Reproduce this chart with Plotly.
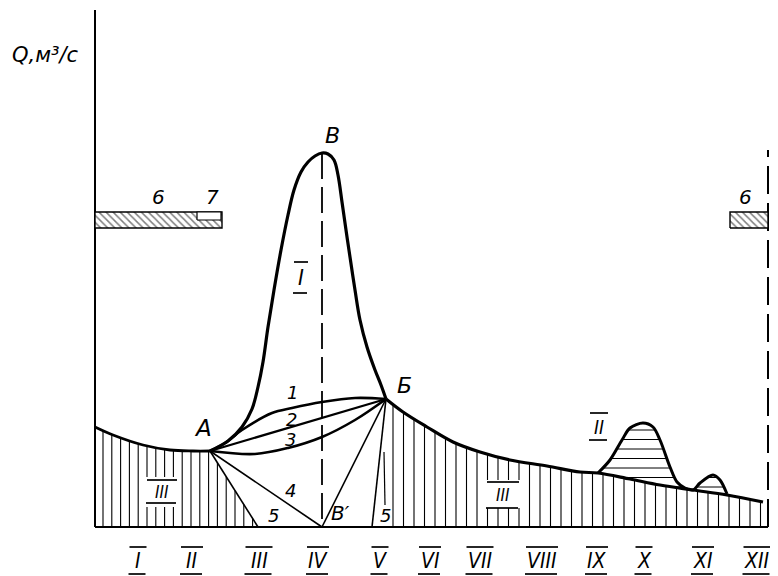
import numpy as np
import plotly.graph_objects as go

# ---------------- data (t: position along the year, q: discharge) ----------------
month_labels = ["I", "II", "III", "IV", "V", "VI", "VII", "VIII", "IX", "X", "XI", "XII"]
month_t = [138, 192, 259, 318, 380, 430, 480, 542, 597, 644, 703, 757]

# base flow before the flood (axis -> point А)
base_left_t = [95, 113, 143, 170, 193, 210]
base_left_q = [100, 92, 82, 77, 76, 76]

# main flood hydrograph А – В – Б
flood_t = [210, 228, 242, 252, 258, 263, 268, 274, 281, 288, 294, 301, 308, 315, 322,
           328, 334, 338, 342, 346, 350, 355, 360, 367, 375, 381, 386]
flood_q = [76, 86, 100, 118, 140, 165, 200, 237, 277, 312, 337, 355, 365, 371, 374,
           373, 367, 352, 325, 297, 270, 237, 207, 180, 157, 142, 128]

# recession (base flow) after Б
rec_t = [386, 403, 427, 453, 480, 510, 547, 580, 598, 630, 660, 693, 727, 763]
rec_q = [128, 115, 100, 85, 75, 67, 61, 55, 54, 48, 42, 37, 32, 25]

# autumn flood II
flood2_t = [598, 610, 622, 630, 643, 653, 660, 670, 677, 685, 693, 700, 713, 720, 727]
flood2_q = [54, 67, 87, 99, 104, 100, 87, 60, 45, 39, 37, 44, 52, 47, 33]

# separation lines 1, 2, 3 (А -> Б)
sep1_t = [210, 225, 242, 272, 292, 322, 355, 386]
sep1_q = [76, 84, 97, 114, 119, 125, 129, 128]
sep2_t = [210, 386]
sep2_q = [76, 128]
sep3_t = [210, 255, 288, 322, 355, 386]
sep3_q = [76, 73, 79, 90, 107, 128]

# key points
point_A = (210, 76)
point_B = (322, 374)
point_Bp = (322, 0)
point_Bb = (386, 128)          # Б
line5_left_end = (258, 0)
line5_right_end = (372, 0)
line5_thin = ([384, 385], [75, 22])

# water demand bars (6) and reserve (7)
bar6_left_t = [95, 222]
bar6_right_t = [730, 768]
bar6_q = [299, 315]
bar7_t = [197, 221]
bar7_q = [307, 315]

axis_t0, axis_t1 = 95, 768
axis_qtop = 517
right_dash_qtop = 377

# ---------------- figure ----------------
fig = go.Figure()
BLK = "black"


def add_line(x, y, w=2.5, shape="linear", dash="solid", smooth=1.0):
    line = dict(color=BLK, width=w, dash=dash)
    if shape == "spline":
        line["shape"] = "spline"
        line["smoothing"] = smooth
    fig.add_trace(go.Scatter(x=x, y=y, mode="lines", line=line, hoverinfo="skip", showlegend=False))


# vertical hatching (base flow, III)
def vhatch(xs, top_fn, gaps):
    X, Y = [], []
    for x in xs:
        top = float(top_fn(x))
        if top <= 1:
            continue
        segs = [(0.0, top)]
        for (gx0, gx1, gq0, gq1) in gaps:
            if gx0 <= x <= gx1:
                new = []
                for a, b in segs:
                    if b <= gq0 or a >= gq1:
                        new.append((a, b))
                    else:
                        if a < gq0:
                            new.append((a, gq0))
                        if b > gq1:
                            new.append((gq1, b))
                segs = new
        for a, b in segs:
            X += [x, x, None]
            Y += [a, b, None]
    fig.add_trace(go.Scatter(x=X, y=Y, mode="lines", line=dict(color=BLK, width=1.1),
                             hoverinfo="skip", showlegend=False))


def left_top(x):
    if x <= point_A[0]:
        return np.interp(x, base_left_t, base_left_q)
    return point_A[1] * (line5_left_end[0] - x) / (line5_left_end[0] - point_A[0])


vhatch(np.arange(103, 256, 8.8), left_top, [(145, 180, 20, 50)])
vhatch(np.arange(393, 764, 10.5), lambda x: np.interp(x, rec_t, rec_q), [(485, 522, 19, 47)])

# horizontal hatching of flood II
ts = np.linspace(flood2_t[0], flood2_t[-1], 2000)
top2 = np.interp(ts, flood2_t, flood2_q)
bot2 = np.interp(ts, rec_t, rec_q)
HX, HY = [], []
for lvl in np.arange(40, 104, 9.5):
    m = (top2 > lvl) & (bot2 < lvl)
    idx = np.where(m)[0]
    if len(idx) == 0:
        continue
    runs = np.split(idx, np.where(np.diff(idx) > 1)[0] + 1)
    for r in runs:
        HX += [ts[r[0]], ts[r[-1]], None]
        HY += [lvl, lvl, None]
fig.add_trace(go.Scatter(x=HX, y=HY, mode="lines", line=dict(color=BLK, width=1.0),
                         hoverinfo="skip", showlegend=False))

# axes
add_line([axis_t0, axis_t0], [0, axis_qtop], w=2)
add_line([axis_t0, axis_t1], [0, 0], w=2.2)
add_line([axis_t1, axis_t1], [0, right_dash_qtop], w=2, dash="28px,9px")

# hydrograph curves
add_line(base_left_t, base_left_q, w=2.8, shape="spline", smooth=1.0)
add_line(flood_t, flood_q, w=3.2, shape="spline", smooth=1.0)
add_line(rec_t, rec_q, w=3.2, shape="spline", smooth=1.0)
add_line(flood2_t, flood2_q, w=3.0, shape="spline", smooth=0.9)

# separation lines
add_line(sep1_t, sep1_q, w=2.6, shape="spline", smooth=1.0)
add_line(sep2_t, sep2_q, w=2.2)
add_line(sep3_t, sep3_q, w=2.6, shape="spline", smooth=1.0)
add_line([point_A[0], point_Bp[0]], [point_A[1], point_Bp[1]], w=1.6)
add_line([point_A[0], line5_left_end[0]], [point_A[1], line5_left_end[1]], w=1.6)
add_line([point_Bb[0], point_Bp[0]], [point_Bb[1], point_Bp[1]], w=1.6)
add_line([point_Bb[0], line5_right_end[0]], [point_Bb[1], line5_right_end[1]], w=1.6)
add_line(line5_thin[0], line5_thin[1], w=1.2)
add_line([point_B[0], point_Bp[0]], [point_B[1], point_Bp[1]], w=1.8, dash="26px,8px")

# bars 6 / 7
for bt in (bar6_left_t, bar6_right_t):
    fig.add_trace(go.Scatter(
        x=[bt[0], bt[1], bt[1], bt[0], bt[0]],
        y=[bar6_q[0], bar6_q[0], bar6_q[1], bar6_q[1], bar6_q[0]],
        mode="lines", fill="toself", fillcolor="white",
        fillpattern=dict(shape="\\", fgcolor=BLK, bgcolor="white", size=5, solidity=0.3),
        line=dict(color=BLK, width=1.4), hoverinfo="skip", showlegend=False))
fig.add_trace(go.Scatter(
    x=[bar7_t[0], bar7_t[1], bar7_t[1], bar7_t[0], bar7_t[0]],
    y=[bar7_q[0], bar7_q[0], bar7_q[1], bar7_q[1], bar7_q[0]],
    mode="lines", fill="toself", fillcolor="white",
    line=dict(color=BLK, width=1.2), hoverinfo="skip", showlegend=False))

# ---------------- text ----------------
FONT = "DejaVu Sans"
ann = []


def txt(x, y, s, size=18, family=FONT):
    ann.append(dict(x=x, y=y, text=s, showarrow=False, xanchor="center", yanchor="middle",
                    font=dict(family=family, size=size, color=BLK, style="italic")))


# roman numerals with over/under lines
RX, RY = [], []


def roman(x, y, s, size, over, under, w):
    txt(x, y, s, size=size, family="DejaVu Sans Condensed, DejaVu Sans")
    RX.extend([x - w / 2, x + w / 2, None, x - w / 2 - 1, x + w / 2 - 1, None])
    RY.extend([over, over, None, under, under, None])


for lab, t in zip(month_labels, month_t):
    roman(t, -34, lab, 21, -20, -47, 12 + 5 * len(lab))

roman(301, 250, "I", 22, 265, 234, 14)
roman(599, 100, "II", 19, 114, 87, 18)
roman(162, 35, "III", 17, 47, 24, 30)
roman(503, 32, "III", 17, 45, 19, 32)

fig.add_trace(go.Scatter(x=RX, y=RY, mode="lines", line=dict(color=BLK, width=1.7),
                         hoverinfo="skip", showlegend=False))

txt(203, 99, "А", 23)
txt(332, 392, "В", 22)
txt(404, 142, "Б", 22)
txt(340, 14, "В′", 20)
txt(292, 135, "1", 18)
txt(291, 108, "2", 18)
txt(290, 88, "3", 18)
txt(290, 37, "4", 18)
txt(273, 12, "5", 18)
txt(385, 12, "5", 18)
txt(158, 330, "6", 20)
txt(212, 330, "7", 20)
txt(745, 330, "6", 20)
txt(45, 472, "Q,м³/с", 21)

# the page body has an 8 px margin: the figure is 770x568 and its axis
# ranges start 8 px in, so the drawing lines up with the 778x576 window
fig.update_layout(
    width=770, height=568,
    margin=dict(l=0, r=0, t=0, b=0),
    paper_bgcolor="white", plot_bgcolor="white",
    xaxis=dict(range=[8, 778], visible=False, fixedrange=True),
    yaxis=dict(range=[-49, 519], visible=False, fixedrange=True),
    annotations=ann,
    showlegend=False,
)

fig.write_html("out.html")
